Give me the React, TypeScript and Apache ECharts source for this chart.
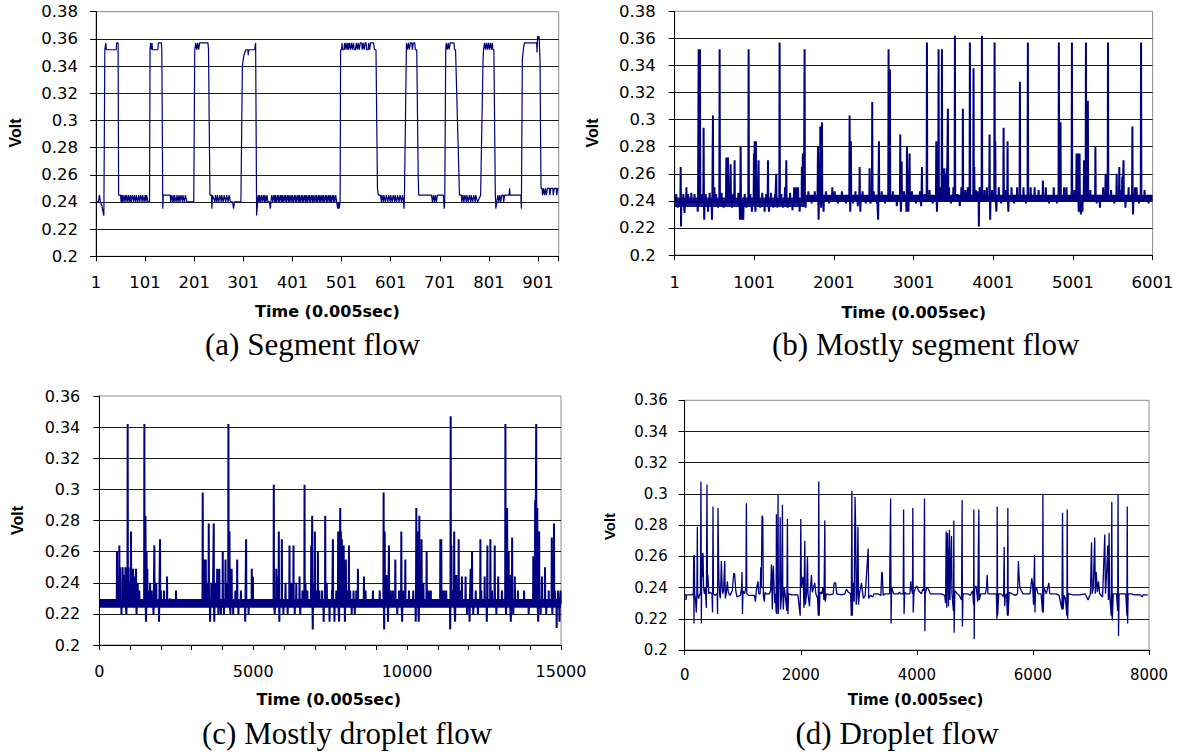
import React, { useEffect, useRef } from 'react';
import * as echarts from 'echarts';

// ---------------- DATA ----------------
const captions = ['(a) Segment flow', '(b) Mostly segment flow', '(c) Mostly droplet flow', '(d) Droplet flow'];
const xTitle = 'Time (0.005sec)';
const yTitle = 'Volt';

// x axis extents [min, max, tick interval, label step] (a, b use 1-based sample numbers)
const xAxisA = [1, 943, 100];
const xAxisB = [1, 6001, 1000];
const xAxisC = [0, 15000, 1000, 5000];
const xAxisD = [0, 8000, 2000];
const yAxisAB = [0.2, 0.38, 0.02];
const yAxisCD = [0.2, 0.36, 0.02];

// (a) Segment flow: [sample, volt]
const aPoints = [
  [1,0.24],[6,0.24],[8,0.245],[10,0.24],[13,0.237],[17,0.23],[19,0.352],[21,0.357],[22,0.352],[42,0.352],[43,0.357],[46,0.357],[47,0.245],
  [51,0.245],[52,0.24],[53,0.245],[55,0.24],[56,0.245],[58,0.24],[60,0.245],[62,0.24],[63,0.245],[66,0.24],[67,0.245],[70,0.24],[71,0.245],[73,0.24],[75,0.245],[78,0.24],[79,0.245],[82,0.24],[83,0.245],[86,0.24],[88,0.245],[90,0.24],[92,0.245],[95,0.24],[96,0.245],[99,0.24],[101,0.245],[103,0.24],[104,0.245],[107,0.24],[110,0.24],
  [111,0.352],[112,0.357],[114,0.352],[115,0.357],[116,0.352],[127,0.352],[128,0.357],[134,0.357],[135,0.352],[137,0.235],[138,0.245],
  [152,0.245],[153,0.24],[154,0.245],[157,0.24],[158,0.245],[160,0.24],[161,0.245],[164,0.24],[166,0.245],[168,0.24],[170,0.245],[172,0.24],[174,0.245],[177,0.24],[178,0.245],[181,0.24],[183,0.245],[186,0.24],[200,0.24],
  [202,0.352],[204,0.357],[206,0.352],[208,0.357],[210,0.352],[212,0.357],[229,0.357],[230,0.352],[233,0.245],[236,0.245],[237,0.235],[238,0.245],
  [243,0.24],[244,0.245],[247,0.24],[248,0.245],[251,0.24],[253,0.245],[256,0.24],[257,0.245],[260,0.24],[262,0.245],[265,0.24],[267,0.245],[270,0.24],[272,0.245],[275,0.24],[279,0.24],[281,0.235],[283,0.24],[296,0.24],
  [299,0.34],[302,0.348],[306,0.352],[310,0.352],[311,0.348],[312,0.352],[324,0.352],[326,0.357],[327,0.357],[328,0.23],[331,0.245],
  [333,0.24],[334,0.245],[336,0.24],[338,0.245],[340,0.24],[342,0.245],[344,0.24],[345,0.245],[347,0.24],[349,0.245],[351,0.24],[354,0.24],[356,0.235],[357,0.24],[359,0.245],[361,0.24],[363,0.245],[365,0.24],[366,0.245],[368,0.24],[370,0.245],[372,0.24],[373,0.245],[375,0.24],[377,0.245],[379,0.24],[380,0.245],[382,0.24],[384,0.245],[386,0.24],[387,0.245],[389,0.24],[391,0.245],[393,0.24],[394,0.245],[396,0.24],[398,0.245],[400,0.24],[401,0.245],[403,0.24],[405,0.245],[407,0.24],[408,0.245],[410,0.24],[412,0.245],[414,0.24],[415,0.245],[417,0.24],[419,0.245],[421,0.24],[422,0.245],[424,0.24],[426,0.245],[428,0.24],[429,0.245],[431,0.24],[433,0.245],[435,0.24],[436,0.245],[438,0.24],[440,0.245],[442,0.24],[443,0.245],[445,0.24],[447,0.245],[449,0.24],[450,0.245],[452,0.24],[454,0.245],[456,0.24],[457,0.245],[459,0.24],[461,0.245],[463,0.24],[464,0.245],[466,0.24],[468,0.245],[470,0.24],[471,0.245],[473,0.24],[475,0.245],[477,0.24],[478,0.245],[480,0.24],[482,0.245],[484,0.24],[485,0.245],[487,0.24],[489,0.245],[491,0.24],[493,0.235],[495,0.24],[496,0.235],[498,0.24],
  [499,0.352],[501,0.352],[502,0.357],[503,0.352],[506,0.352],[507,0.357],[508,0.352],[510,0.357],[512,0.352],[514,0.357],[515,0.352],[517,0.357],[519,0.352],[521,0.357],[523,0.352],[525,0.357],[527,0.352],[529,0.352],[531,0.357],[533,0.352],[535,0.357],[537,0.352],[539,0.357],[542,0.357],[543,0.352],[545,0.357],[547,0.352],[549,0.357],[551,0.357],[552,0.352],[555,0.352],[556,0.357],[558,0.352],[560,0.357],[566,0.357],[568,0.352],[571,0.352],[574,0.25],[576,0.245],
  [580,0.245],[582,0.24],[583,0.245],[586,0.24],[587,0.245],[590,0.24],[592,0.245],[595,0.24],[597,0.245],[600,0.24],[601,0.245],[604,0.24],[606,0.245],[609,0.24],[610,0.245],[613,0.24],[615,0.245],[618,0.24],[620,0.245],[623,0.24],[625,0.245],[627,0.24],[628,0.235],[629,0.245],
  [631,0.3],[633,0.357],[635,0.352],[637,0.357],[639,0.352],[641,0.357],[644,0.357],[645,0.352],[647,0.357],[650,0.357],[651,0.352],[654,0.352],[657,0.258],[658,0.245],
  [684,0.245],[686,0.24],[688,0.245],[690,0.24],[692,0.245],[694,0.24],[696,0.245],[708,0.245],[710,0.235],[711,0.24],
  [713,0.352],[714,0.357],[716,0.352],[718,0.357],[720,0.352],[722,0.357],[730,0.357],[731,0.352],[733,0.352],[741,0.245],
  [745,0.245],[746,0.24],[748,0.245],[750,0.24],[752,0.245],[755,0.24],[756,0.245],[759,0.24],[761,0.245],[764,0.24],[765,0.245],[768,0.24],[770,0.245],[773,0.24],[774,0.245],[778,0.24],[784,0.245],
  [789,0.345],[790,0.352],[792,0.357],[794,0.352],[796,0.357],[798,0.352],[800,0.357],[802,0.352],[804,0.357],[806,0.352],[808,0.357],[809,0.352],[811,0.352],[814,0.245],[815,0.235],[817,0.24],
  [819,0.245],[821,0.24],[823,0.245],[825,0.24],[827,0.245],[830,0.245],[831,0.24],[833,0.245],[842,0.245],[843,0.25],[844,0.245],[866,0.245],[867,0.235],[869,0.345],[871,0.352],[873,0.357],[898,0.357],[899,0.35],[900,0.362],[902,0.36],[903,0.362],[905,0.345],[906,0.29],[907,0.25],
  [909,0.25],[910,0.245],[912,0.25],[914,0.245],[916,0.25],[918,0.245],[920,0.25],[924,0.25],[925,0.245],[927,0.25],[931,0.25],[932,0.245],[934,0.25],[938,0.25],[939,0.245],[941,0.25],[943,0.25],
];

// (b) Mostly segment flow: dense baseline band [from, to, low, high], baseline level [from, to, volt], spikes [sample, volt]
const bBands = [[1, 1640, 0.2355, 0.2425], [1640, 6001, 0.2395, 0.2445]];
const bBase = [[1, 1640, 0.239], [1640, 6001, 0.242]];
const bEvents = [
  [20,0.245],[40,0.235],[76,0.265],[80,0.221],[110,0.245],[125,0.231],[148,0.25],[170,0.245],[210,0.246],[250,0.245],[290,0.232],[302,0.352],[310,0.24],[318,0.352],[340,0.245],[364,0.294],[372,0.226],[390,0.245],[420,0.232],[440,0.246],[469,0.226],[481,0.303],[500,0.25],[520,0.245],[545,0.235],[565,0.352],[590,0.246],[615,0.235],[649,0.272],[660,0.265],[670,0.272],[690,0.24],[703,0.267],[720,0.235],[735,0.245],[753,0.27],[770,0.24],[800,0.246],[820,0.226],[829,0.28],[840,0.226],[862,0.226],[880,0.245],[900,0.235],[929,0.352],[950,0.245],[970,0.232],[996,0.275],[1005,0.284],[1015,0.232],[1021,0.284],[1040,0.245],[1054,0.27],[1075,0.235],[1100,0.246],[1130,0.232],[1150,0.245],[1172,0.27],[1185,0.232],[1210,0.246],[1240,0.235],[1260,0.245],[1276,0.26],[1290,0.235],[1318,0.357],[1340,0.245],[1360,0.235],[1385,0.25],[1402,0.27],[1420,0.235],[1450,0.246],[1480,0.233],[1500,0.25],[1527,0.25],[1550,0.25],[1570,0.232],[1598,0.265],[1610,0.275],[1619,0.275],[1632,0.352],[1645,0.235],[1680,0.247],[1720,0.238],[1760,0.247],[1790,0.24],[1800,0.28],[1808,0.226],[1829,0.295],[1840,0.235],[1850,0.298],[1870,0.232],[1900,0.247],[1940,0.238],[1980,0.25],[2010,0.247],[2050,0.238],[2100,0.247],[2150,0.238],[2197,0.303],[2205,0.232],[2213,0.284],[2240,0.238],[2270,0.247],[2300,0.236],[2323,0.265],[2332,0.232],[2360,0.247],[2400,0.238],[2448,0.264],[2460,0.238],[2481,0.313],[2500,0.247],[2540,0.238],[2555,0.226],[2565,0.284],[2600,0.247],[2640,0.238],[2686,0.352],[2695,0.24],[2703,0.337],[2740,0.247],[2790,0.236],[2833,0.289],[2841,0.232],[2850,0.269],[2880,0.247],[2910,0.232],[2917,0.28],[2935,0.232],[2950,0.275],[2980,0.247],[3030,0.238],[3080,0.247],[3095,0.236],[3105,0.265],[3140,0.245],[3168,0.357],[3200,0.248],[3240,0.238],[3285,0.284],[3294,0.232],[3314,0.352],[3335,0.25],[3356,0.352],[3381,0.264],[3390,0.25],[3400,0.26],[3415,0.264],[3431,0.308],[3445,0.25],[3470,0.238],[3500,0.25],[3519,0.362],[3550,0.245],[3580,0.236],[3600,0.25],[3619,0.308],[3650,0.248],[3680,0.25],[3707,0.357],[3725,0.24],[3753,0.338],[3762,0.265],[3780,0.248],[3800,0.247],[3820,0.221],[3830,0.25],[3858,0.362],[3890,0.248],[3920,0.25],[3954,0.289],[3962,0.226],[3985,0.248],[4017,0.357],[4026,0.284],[4040,0.232],[4070,0.25],[4100,0.238],[4130,0.294],[4150,0.248],[4180,0.284],[4190,0.232],[4230,0.25],[4260,0.238],[4300,0.25],[4335,0.328],[4380,0.25],[4410,0.238],[4435,0.357],[4470,0.25],[4520,0.25],[4570,0.248],[4624,0.255],[4660,0.25],[4700,0.238],[4760,0.25],[4800,0.238],[4824,0.357],[4845,0.298],[4890,0.25],[4920,0.25],[4988,0.357],[5020,0.248],[5046,0.275],[5055,0.24],[5065,0.275],[5073,0.232],[5084,0.275],[5100,0.23],[5120,0.232],[5140,0.27],[5164,0.357],[5188,0.314],[5220,0.248],[5283,0.28],[5300,0.238],[5340,0.235],[5380,0.25],[5411,0.26],[5441,0.357],[5480,0.248],[5520,0.238],[5550,0.26],[5583,0.265],[5600,0.248],[5620,0.258],[5636,0.27],[5660,0.235],[5700,0.25],[5747,0.295],[5756,0.23],[5780,0.25],[5800,0.25],[5830,0.238],[5856,0.357],[5900,0.248],[5950,0.238],
];

// (c) Mostly droplet flow
const cBands = [[0, 15000, 0.224, 0.2295]];
const cBase = [[0, 15000, 0.2265]];
const cEvents = [
  [575,0.26],[610,0.245],[651,0.264],[680,0.25],[720,0.22],[760,0.25],[800,0.245],[850,0.25],[880,0.22],[922,0.342],[950,0.25],[980,0.24],[1030,0.273],[1060,0.24],[1100,0.249],[1150,0.244],[1193,0.249],[1210,0.22],[1250,0.24],[1300,0.235],[1464,0.342],[1480,0.235],[1500,0.283],[1518,0.215],[1535,0.26],[1560,0.249],[1600,0.235],[1650,0.24],[1700,0.235],[1760,0.22],[1789,0.264],[1810,0.235],[1850,0.24],[1940,0.215],[1973,0.268],[2000,0.235],[2100,0.235],[2201,0.244],[2300,0.23],[2493,0.235],
  [3360,0.298],[3380,0.24],[3420,0.255],[3460,0.255],[3500,0.24],[3556,0.278],[3600,0.215],[3640,0.24],[3680,0.235],[3718,0.278],[3736,0.215],[3780,0.24],[3830,0.249],[3870,0.22],[3900,0.249],[3950,0.22],[4011,0.26],[4050,0.22],[4100,0.255],[4150,0.24],[4195,0.342],[4230,0.273],[4260,0.22],[4300,0.249],[4350,0.22],[4420,0.235],[4480,0.255],[4520,0.22],[4600,0.235],[4740,0.215],[4770,0.268],[4850,0.22],[4954,0.249],[4990,0.244],
  [5669,0.303],[5700,0.22],[5750,0.249],[5790,0.244],[5832,0.273],[5850,0.215],[5930,0.268],[5980,0.22],[6050,0.24],[6120,0.22],[6179,0.264],[6250,0.24],[6309,0.264],[6350,0.22],[6400,0.24],[6505,0.244],[6530,0.22],
  [6600,0.235],[6668,0.303],[6700,0.24],[6760,0.235],[6885,0.264],[6917,0.283],[6935,0.21],[6960,0.24],[7004,0.273],[7050,0.235],[7102,0.26],[7150,0.235],[7240,0.235],[7290,0.215],[7340,0.283],[7390,0.24],[7480,0.215],[7560,0.235],[7589,0.268],[7640,0.215],[7700,0.235],[7760,0.273],[7790,0.215],[7828,0.288],[7850,0.273],[7880,0.268],[7940,0.264],[7980,0.215],[8010,0.255],[8050,0.235],[8110,0.264],[8150,0.235],[8200,0.22],[8260,0.235],[8300,0.22],[8350,0.235],[8402,0.249],[8598,0.244],[8650,0.235],
  [8890,0.235],[9110,0.235],[9237,0.298],[9255,0.21],[9272,0.273],[9330,0.245],[9380,0.215],[9410,0.264],[9470,0.235],[9540,0.235],[9617,0.255],[9680,0.22],[9740,0.235],[9812,0.273],[9840,0.215],[9880,0.235],[9942,0.255],[10060,0.235],[10200,0.235],[10280,0.215],[10299,0.288],[10330,0.235],[10350,0.273],[10380,0.215],[10397,0.283],[10420,0.245],[10470,0.268],[10530,0.24],[10635,0.26],[10700,0.235],[10770,0.235],
  [11080,0.268],[11110,0.268],[11150,0.235],[11200,0.235],[11270,0.235],[11400,0.21],[11416,0.347],[11440,0.264],[11480,0.235],[11530,0.273],[11560,0.215],[11600,0.245],[11676,0.268],[11720,0.235],[11780,0.244],[11900,0.244],[11950,0.22],[12030,0.215],[12066,0.249],[12110,0.26],[12150,0.22],[12230,0.235],[12300,0.22],[12381,0.268],[12410,0.235],[12520,0.244],[12590,0.215],[12608,0.264],[12706,0.268],[12760,0.235],[12847,0.264],[12900,0.22],[12960,0.244],[13080,0.235],[13194,0.342],[13215,0.22],[13250,0.288],[13300,0.26],[13340,0.245],[13370,0.215],[13413,0.269],[13450,0.22],[13500,0.244],[13600,0.235],[13800,0.235],[13950,0.22],[14100,0.257],[14159,0.293],[14195,0.342],[14230,0.288],[14260,0.215],[14290,0.273],[14340,0.22],[14380,0.244],[14480,0.25],[14520,0.22],[14600,0.235],[14700,0.269],[14720,0.22],[14772,0.278],[14800,0.235],[14860,0.211],[14900,0.235],[14950,0.215],[14985,0.235],
];

// (d) Droplet flow: [sample, volt]
const dPoints = [
  [0,0.2353],[20,0.2353],[25,0.232],[30,0.2353],[130,0.2353],[140,0.236],[150,0.2353],[155,0.26],[160,0.217],[165,0.261],[172,0.236],[185,0.233],[200,0.224],[210,0.2353],[218,0.279],[224,0.235],[240,0.233],[258,0.236],[270,0.2353],[280,0.308],[287,0.217],[295,0.262],[305,0.247],[316,0.262],[325,0.24],[340,0.236],[355,0.24],[373,0.227],[384,0.306],[392,0.24],[400,0.248],[415,0.236],[440,0.237],[470,0.236],[480,0.224],[488,0.292],[495,0.236],[520,0.235],[560,0.236],[566,0.223],[574,0.291],[582,0.262],[590,0.245],[600,0.236],[615,0.233],[632,0.257],[645,0.241],[655,0.236],[670,0.238],[690,0.257],[700,0.233],[715,0.236],[736,0.244],[750,0.237],[780,0.235],[820,0.238],[845,0.249],[860,0.249],[880,0.238],[900,0.234],[960,0.235],[980,0.24],[988,0.25],[995,0.223],[1005,0.238],[1030,0.236],[1055,0.24],[1063,0.294],[1070,0.236],[1100,0.235],[1200,0.235],[1210,0.233],[1218,0.231],[1240,0.24],[1264,0.244],[1275,0.236],[1300,0.236],[1310,0.253],[1320,0.24],[1333,0.286],[1345,0.285],[1355,0.236],[1370,0.231],[1385,0.237],
  [1400,0.236],[1460,0.236],[1480,0.238],[1494,0.255],[1500,0.255],[1510,0.226],[1520,0.25],[1528,0.254],[1540,0.24],[1552,0.23],[1565,0.236],[1575,0.224],[1580,0.287],[1586,0.223],[1600,0.24],[1609,0.3],[1614,0.223],[1625,0.245],[1638,0.244],[1645,0.285],[1652,0.226],[1670,0.236],[1684,0.293],[1690,0.236],[1700,0.226],[1715,0.24],[1730,0.236],[1760,0.225],[1770,0.284],[1778,0.223],[1790,0.236],[1850,0.2353],[1950,0.2353],[1990,0.222],[2000,0.284],[2010,0.24],[2040,0.247],[2055,0.227],[2069,0.27],[2080,0.229],[2100,0.236],[2115,0.26],[2125,0.236],[2150,0.228],[2160,0.236],[2184,0.248],[2200,0.237],[2241,0.243],[2260,0.236],[2290,0.233],[2302,0.222],[2310,0.308],[2318,0.222],[2330,0.237],[2360,0.236],[2380,0.24],[2400,0.232],[2414,0.283],[2422,0.231],[2440,0.236],[2500,0.2353],[2560,0.236],[2575,0.243],[2600,0.243],[2620,0.236],[2700,0.2353],[2760,0.236],[2787,0.239],[2820,0.237],[2860,0.236],[2870,0.222],[2880,0.302],[2888,0.222],[2900,0.243],[2920,0.231],[2935,0.298],[2945,0.28],[2955,0.229],[2970,0.236],[2985,0.279],[2995,0.229],[3010,0.236],[3046,0.243],[3060,0.238],[3080,0.233],[3110,0.235],[3161,0.265],[3170,0.233],[3200,0.235],
  [3240,0.234],[3260,0.236],[3330,0.236],[3380,0.235],[3395,0.25],[3405,0.249],[3420,0.235],[3450,0.236],[3530,0.236],[3548,0.297],[3556,0.217],[3565,0.24],[3600,0.236],[3680,0.236],[3700,0.237],[3720,0.236],[3765,0.236],[3772,0.29],[3780,0.223],[3790,0.237],[3815,0.236],[3880,0.236],[3895,0.244],[3905,0.24],[3925,0.236],[3930,0.291],[3938,0.224],[3950,0.237],[3980,0.24],[4000,0.241],[4030,0.238],[4080,0.236],[4100,0.239],[4120,0.238],[4132,0.297],[4138,0.212],[4145,0.236],[4170,0.24],[4200,0.239],[4230,0.236],[4320,0.236],[4420,0.236],[4480,0.235],[4495,0.23],[4505,0.276],[4515,0.227],[4530,0.275],[4545,0.228],[4562,0.277],[4570,0.232],[4597,0.273],[4605,0.236],[4630,0.225],[4637,0.283],[4642,0.211],[4655,0.238],[4700,0.236],[4730,0.235],[4770,0.232],[4780,0.296],[4785,0.215],[4795,0.236],[4830,0.236],[4880,0.236],[4920,0.235],[4960,0.238],[4978,0.229],[4982,0.29],[4988,0.207],[4995,0.24],[5020,0.241],[5050,0.231],[5068,0.29],[5075,0.232],[5100,0.236],[5180,0.236],[5200,0.24],[5212,0.248],[5225,0.236],[5280,0.236],[5330,0.236],[5370,0.236],[5380,0.22],[5384,0.292],[5392,0.222],[5410,0.236],[5450,0.236],[5495,0.234],[5505,0.266],[5512,0.228],[5525,0.235],[5545,0.236],[5560,0.222],[5568,0.291],[5574,0.222],[5590,0.237],[5640,0.236],[5700,0.235],[5735,0.236],[5750,0.257],[5760,0.248],[5775,0.24],[5800,0.238],[5830,0.236],[5870,0.236],[5950,0.236],[5980,0.246],[5995,0.242],[6010,0.229],[6028,0.261],[6036,0.224],[6045,0.24],[6060,0.24],[6090,0.236],[6140,0.236],[6166,0.224],[6172,0.3],[6178,0.224],[6190,0.24],[6230,0.236],[6275,0.243],[6290,0.236],[6400,0.236],[6450,0.235],[6500,0.226],[6510,0.288],[6520,0.226],[6540,0.235],[6560,0.233],[6585,0.222],[6591,0.29],[6598,0.22],[6610,0.236],[6700,0.2353],[6800,0.2353],[6900,0.236],[6950,0.232],[6990,0.236],[7005,0.262],[7010,0.269],[7020,0.236],[7040,0.24],[7065,0.272],[7075,0.236],[7090,0.25],[7110,0.237],[7130,0.244],[7150,0.236],[7200,0.234],[7238,0.274],[7250,0.236],[7270,0.25],[7290,0.267],[7300,0.232],[7313,0.275],[7320,0.236],[7350,0.222],[7359,0.295],[7366,0.219],[7385,0.236],[7420,0.236],[7440,0.236],[7460,0.225],[7467,0.3],[7475,0.209],[7485,0.236],[7530,0.236],[7600,0.236],[7620,0.222],[7625,0.292],[7632,0.217],[7640,0.236],[7700,0.236],[7750,0.2353],[7800,0.2355],[7850,0.2353],[7880,0.234],[7900,0.2353],[7980,0.2353],
];

// ---------------- helpers ----------------
const NAVY = '#000080';
const TICK_FONT = 'DejaVu Sans';

function baseAt(bases: number[][], t: number) {
  for (const [s, e, b] of bases) if (t >= s && t < e) return b;
  return bases[bases.length - 1][2];
}

// spikes leave the baseline band and come back to it
function spikeLine(events: number[][], bases: number[][], half: number, shift: number) {
  const out: number[][] = [];
  for (const [t, v] of events) {
    const b = baseAt(bases, t);
    out.push([t - half - shift, b], [t - shift, v], [t + half - shift, b]);
  }
  return out;
}

function bandSeries(idx: number, bands: number[][], shift: number, opacity: number[]) {
  return {
    type: 'custom',
    xAxisIndex: idx,
    yAxisIndex: idx,
    silent: true,
    clip: true,
    encode: { x: [0, 1], y: [2, 3] },
    data: bands.map((b) => [b[0] - shift, b[1] - shift, b[2], b[3]]),
    renderItem: (params: any, api: any) => {
      const p1 = api.coord([api.value(0), api.value(3)]);
      const p2 = api.coord([api.value(1), api.value(2)]);
      return {
        type: 'rect',
        shape: { x: p1[0], y: p1[1], width: p2[0] - p1[0], height: p2[1] - p1[1] },
        style: { fill: NAVY, opacity: opacity[params.dataIndex] ?? 1 },
      };
    },
  };
}

const fmtY = (v: number) => String(parseFloat(v.toFixed(2)));

function yAxis(idx: number, range: number[], fontSize: number, margin: number) {
  return {
    type: 'value',
    gridIndex: idx,
    min: range[0],
    max: range[1],
    interval: range[2],
    axisLine: { show: true, lineStyle: { color: '#000', width: 1 } },
    axisTick: { show: true, length: 6, lineStyle: { color: '#000', width: 1 } },
    axisLabel: { color: '#000', fontFamily: TICK_FONT, fontSize, margin, formatter: fmtY },
    splitLine: { show: true, showMaxLine: false, lineStyle: { color: '#1a1a1a', width: 1 } },
  };
}

function xAxis(idx: number, min: number, max: number, interval: number, fontSize: number, margin: number, fmt: (v: number) => string) {
  return {
    type: 'value',
    gridIndex: idx,
    min,
    max,
    interval,
    axisLine: { show: true, onZero: false, lineStyle: { color: '#000', width: 1 } },
    axisTick: { show: true, length: 5, lineStyle: { color: '#000', width: 1 } },
    axisLabel: { color: '#000', fontFamily: TICK_FONT, fontSize, margin, formatter: fmt, showMaxLabel: true },
    splitLine: { show: false },
  };
}

function text(x: number, y: number, str: string, font: string, align: string, rotation = 0) {
  return {
    type: 'text',
    x,
    y,
    rotation,
    silent: true,
    style: {
      text: str,
      font,
      fill: '#000',
      align,
      verticalAlign: 'middle',
      textAlign: align,
      textVerticalAlign: 'middle',
    },
  };
}

function buildOption() {
  const grids = [
    { left: 96, top: 11.7, width: 462.7, height: 244.6 },
    { left: 674.7, top: 11.3, width: 477.9, height: 243.7 },
    { left: 99.3, top: 396, width: 461.7, height: 249 },
    { left: 684.7, top: 400.3, width: 464.3, height: 249.7 },
  ].map((g) => ({ ...g, show: true, borderColor: '#8c8c8c', borderWidth: 1, backgroundColor: 'transparent' }));

  const xA = xAxis(0, 0, xAxisA[1] - xAxisA[0], xAxisA[2], 16.5, 18, (v) => (v % 100 === 0 ? String(v + 1) : ''));
  const xB = xAxis(1, 0, xAxisB[1] - xAxisB[0], xAxisB[2], 16.5, 19, (v) => (v % 1000 === 0 ? String(v + 1) : ''));
  const xC = xAxis(2, xAxisC[0], xAxisC[1], xAxisC[2], 16, 18, (v) => (v % xAxisC[3] === 0 ? String(v) : ''));
  const xD = xAxis(3, xAxisD[0], xAxisD[1], xAxisD[2], 15, 17, (v) => String(v));

  const series: any[] = [
    {
      type: 'line',
      xAxisIndex: 0,
      yAxisIndex: 0,
      data: aPoints.map(([t, v]) => [t - 1, v]),
      showSymbol: false,
      symbol: 'none',
      lineStyle: { color: NAVY, width: 1.2 },
      silent: true,
    },
    bandSeries(1, bBands, 1, [0.9, 1]),
    {
      type: 'line',
      xAxisIndex: 1,
      yAxisIndex: 1,
      data: spikeLine(bEvents, bBase, 4, 1),
      showSymbol: false,
      symbol: 'none',
      lineStyle: { color: NAVY, width: 2 },
      silent: true,
    },
    bandSeries(2, cBands, 0, [1]),
    {
      type: 'line',
      xAxisIndex: 2,
      yAxisIndex: 2,
      data: spikeLine(cEvents, cBase, 8, 0),
      showSymbol: false,
      symbol: 'none',
      lineStyle: { color: NAVY, width: 2 },
      silent: true,
    },
    {
      type: 'line',
      xAxisIndex: 3,
      yAxisIndex: 3,
      data: dPoints,
      showSymbol: false,
      symbol: 'none',
      lineStyle: { color: NAVY, width: 1.3 },
      silent: true,
    },
  ];

  const boldTime = (s: number) => `bold ${s}px "DejaVu Sans"`;
  const boldVolt = (s: number) => `bold ${s}px "Liberation Sans"`;
  const cap = '31px "Liberation Serif"';

  const graphic = [
    text(327.4, 311.5, xTitle, boldTime(16), 'center'),
    text(913.7, 312, xTitle, boldTime(16), 'center'),
    text(328.7, 699.5, xTitle, boldTime(16), 'center'),
    text(915.5, 700, xTitle, boldTime(15), 'center'),
    text(15, 133, yTitle, boldVolt(16), 'center', Math.PI / 2),
    text(592, 133, yTitle, boldVolt(16), 'center', Math.PI / 2),
    text(17.5, 520.5, yTitle, boldVolt(16), 'center', Math.PI / 2),
    text(609.6, 526.5, yTitle, boldVolt(15), 'center', Math.PI / 2),
    text(205, 344, captions[0], cap, 'left'),
    text(772, 344, captions[1], cap, 'left'),
    text(202, 733.5, captions[2], cap, 'left'),
    text(795.5, 733.5, captions[3], cap, 'left'),
  ];

  return {
    animation: false,
    backgroundColor: '#ffffff',
    grid: grids,
    xAxis: [xA, xB, xC, xD],
    yAxis: [yAxis(0, yAxisAB, 16.5, 18), yAxis(1, yAxisAB, 16.5, 19), yAxis(2, yAxisCD, 16, 19), yAxis(3, yAxisCD, 15, 17)],
    series,
    graphic,
  };
}

export default function App() {
  const ref = useRef<HTMLDivElement>(null);
  useEffect(() => {
    if (!ref.current) return;
    const chart = echarts.init(ref.current, null, { renderer: 'svg' });
    chart.setOption(buildOption() as any);
    return () => chart.dispose();
  }, []);
  return (
    <div
      ref={ref}
      style={{ position: 'absolute', left: 0, top: 0, width: 1178, height: 755, background: '#fff' }}
    />
  );
}
